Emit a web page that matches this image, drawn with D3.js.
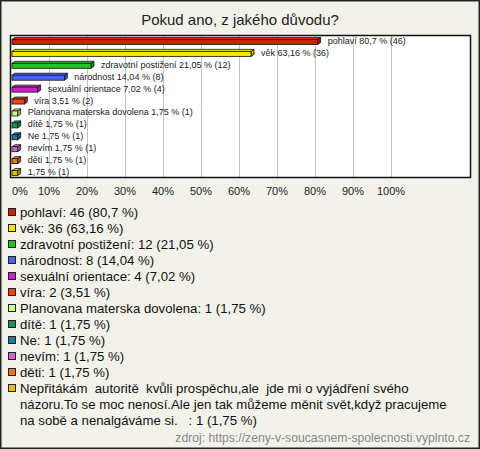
<!DOCTYPE html>
<html><head><meta charset="utf-8">
<script src="https://cdn.jsdelivr.net/npm/d3@7"></script>
<style>
html,body{margin:0;padding:0;background:#f3f2ea;}
text{font-family:"Liberation Sans",Arial,sans-serif;}
</style></head>
<body><svg id="c" width="480" height="449"></svg>
<script>
const title = "Pokud ano, z jakého důvodu?";
const categories = [
  "pohlaví","věk","zdravotní postižení","národnost","sexuální orientace","víra",
  "Planovana materska dovolena","dítě","Ne","nevím","děti",
  "Nepřitákám  autoritě  kvůli prospěchu,ale  jde mi o vyjádření svého\nnázoru.To se moc nenosí.Ale jen tak můžeme měnit svět,když pracujeme\nna sobě a nenalgáváme si.   "
];
const counts = [46,36,12,8,4,2,1,1,1,1,1,1];
const respondents = 57;
const colors = ["#cc2200","#ffe600","#22c322","#4466ee","#cc22cc","#ee4411",
  "#ccff88","#119955","#227799","#cc66cc","#ee7711","#eebb11"];
const tickValues = [0,10,20,30,40,50,60,70,80,90,100];
const source = "zdroj: https://zeny-v-soucasnem-spolecnosti.vyplnto.cz";

const pct = counts.map(c => c/respondents*100);
const fmt = v => (+v.toFixed(2)).toString().replace(".", ",");

const svg = d3.select("#c");
svg.append("rect").attr("x",0.75).attr("y",0.75).attr("width",478.5).attr("height",447.5)
  .attr("fill","#f3f2ea").attr("stroke","#222").attr("stroke-width",1.5);

svg.append("text").attr("x",240).attr("y",25).attr("text-anchor","middle")
  .attr("font-size",15).attr("fill","#222").text(title);

const x = d3.scaleLinear().domain([0,100]).range([11,391]);
const y = d3.scaleBand().domain(d3.range(categories.length)).range([35,178]);

svg.append("rect").attr("x",10.5).attr("y",35.5).attr("width",460).attr("height",142)
  .attr("fill","#fff");
svg.append("g").selectAll("line").data(tickValues.filter(d=>d>0)).join("line")
  .attr("x1",d=>Math.round(x(d))+0.5).attr("x2",d=>Math.round(x(d))+0.5)
  .attr("y1",36).attr("y2",177).attr("stroke","#c4c4c4").attr("stroke-width",1);

// 3D bars
const dx = 3, dy = 2, h = 5;
const bars = svg.append("g").selectAll("g").data(pct).join("g");
bars.each(function(v,i){
  const g = d3.select(this);
  const c = y(i) + y.bandwidth()/2;
  const x0 = x(0)+1, x1 = x(v);
  const top = c - 1.5;
  const col = d3.color(colors[i]);
  g.append("path").attr("d",`M${x1},${top}L${x1+dx},${top-dy}L${x1+dx},${top-dy+h}L${x1},${top+h}Z`)
    .attr("fill",col.darker(0.8)).attr("stroke","#111").attr("stroke-width",0.8);
  g.append("path").attr("d",`M${x0},${top}L${x0+dx},${top-dy}L${x1+dx},${top-dy}L${x1},${top}Z`)
    .attr("fill",col.brighter(0.3)).attr("stroke","#111").attr("stroke-width",0.8);
  g.append("rect").attr("x",x0).attr("y",top).attr("width",x1-x0).attr("height",h)
    .attr("fill",col).attr("stroke","#111").attr("stroke-width",0.8);
  const name = categories[i].includes("\n") ? "" : categories[i];
  g.append("text").attr("x",x1+dx+7).attr("y",c+3).attr("font-size",9).attr("fill","#222")
    .text(name + " " + fmt(v) + " % (" + counts[i] + ")");
});

svg.append("rect").attr("x",10.5).attr("y",35.5).attr("width",460).attr("height",142)
  .attr("fill","none").attr("stroke","#111").attr("stroke-width",1.5);

svg.append("g").selectAll("text").data(tickValues).join("text")
  .attr("x",d=> d===0 ? 12 : x(d)).attr("y",195)
  .attr("text-anchor",d=> d===0 ? "start" : "middle")
  .attr("font-size",11).attr("fill","#222").text(d=>d+"%");

let line = 0;
const lg = svg.append("g");
categories.forEach((name,i)=>{
  const by = 217 + line*16;
  lg.append("rect").attr("x",8.5).attr("y",by-8.5).attr("width",7).attr("height",7)
    .attr("fill",colors[i]).attr("stroke","#222").attr("stroke-width",1);
  const lines = (name + ": " + counts[i] + " (" + fmt(pct[i]) + " %)").split("\n");
  lines.forEach((t,k)=>{
    lg.append("text").attr("x",20).attr("y",by + k*16).attr("font-size",13.2)
      .attr("fill","#111").style("white-space","pre").text(t);
  });
  line += lines.length;
});

svg.append("text").attr("x",470).attr("y",442).attr("text-anchor","end")
  .attr("font-size",12.2).attr("fill","#888").text(source);
</script></body></html>
